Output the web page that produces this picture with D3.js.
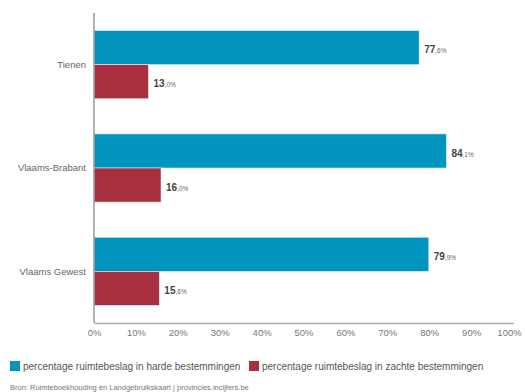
<!DOCTYPE html>
<html>
<head>
<meta charset="utf-8">
<script src="https://cdn.jsdelivr.net/npm/d3@7"></script>
<style>
  body { margin: 0; background: #fff; }
  svg { font-family: "Liberation Sans", Arial, sans-serif; display: block; }
</style>
</head>
<body>
<div id="chart"></div>
<script>
// Chart data
const regions = ["Tienen", "Vlaams-Brabant", "Vlaams Gewest"];
const hardValues = [77.6, 84.1, 79.9];
const softValues = [13.0, 16.0, 15.6];
const seriesNames = [
  "percentage ruimtebeslag in harde bestemmingen",
  "percentage ruimtebeslag in zachte bestemmingen"
];
const xTicks = [0, 10, 20, 30, 40, 50, 60, 70, 80, 90, 100];
const sourceText = "Bron: Ruimteboekhouding en Landgebruikskaart | provincies.incijfers.be";

const colours = ["#0094bf", "#a8303e"];

const width = 525, height = 392;
const margin = { top: 13, right: 12, bottom: 69, left: 94 };
const innerW = width - margin.left - margin.right;
const innerH = height - margin.top - margin.bottom;

const svg = d3.select("#chart").append("svg")
  .attr("width", width)
  .attr("height", height);

const chart = svg.append("g")
  .attr("transform", `translate(${margin.left},${margin.top})`);

// Scales
const xScale = d3.scaleLinear().domain([0, 100]).range([0, innerW]);
const yScale = d3.scaleBand().domain(regions).range([0, innerH])
  .paddingInner(0.34).paddingOuter(0.17);
const subScale = d3.scaleBand().domain([0, 1]).range([0, yScale.bandwidth()]);

const data = regions.map((r, i) => ({ region: r, values: [hardValues[i], softValues[i]] }));

// Bars
const groups = chart.selectAll(".group")
  .data(data)
  .join("g")
  .attr("class", "group")
  .attr("transform", d => `translate(0,${yScale(d.region)})`);

groups.selectAll("rect")
  .data(d => d.values.map((v, k) => ({ v, k })))
  .join("rect")
  .attr("x", 0)
  .attr("y", d => subScale(d.k))
  .attr("width", d => xScale(d.v))
  .attr("height", subScale.bandwidth())
  .attr("fill", d => colours[d.k])
  .attr("stroke", "#e6f2f6")
  .attr("stroke-width", 0.6);

// Value labels: bold integer part, small decimal part
const fmt = d3.format(".1f");
const valueLabels = groups.selectAll(".value-label")
  .data(d => d.values.map((v, k) => ({ v, k })))
  .join("text")
  .attr("class", "value-label")
  .attr("x", d => xScale(d.v) + 5)
  .attr("y", d => subScale(d.k) + subScale.bandwidth() / 2)
  .attr("dy", "0.35em")
  .attr("fill", "#444");

valueLabels.append("tspan")
  .style("font-size", "10px")
  .style("font-weight", "bold")
  .text(d => fmt(d.v).split(".")[0]);
valueLabels.append("tspan")
  .style("font-size", "6.5px")
  .attr("fill", "#666")
  .text(d => "," + fmt(d.v).split(".")[1] + "%");

// Category labels
chart.selectAll(".cat-label")
  .data(regions)
  .join("text")
  .attr("class", "cat-label")
  .attr("x", -8)
  .attr("y", d => yScale(d) + yScale.bandwidth() / 2)
  .attr("dy", "0.35em")
  .attr("text-anchor", "end")
  .attr("fill", "#666")
  .style("font-size", "9.5px")
  .text(d => d);

// Axes
const xAxis = d3.axisBottom(xScale)
  .tickValues(xTicks)
  .tickSize(0)
  .tickPadding(6)
  .tickFormat(d => d + "%");

const xAxisGroup = chart.append("g")
  .attr("transform", `translate(0,${innerH})`)
  .call(xAxis);
xAxisGroup.select(".domain").attr("stroke", "#aaa").attr("stroke-width", 1.5);
xAxisGroup.selectAll("text").attr("fill", "#777").style("font-size", "9.5px");
xAxisGroup.selectAll(".tick").filter(d => d === 100).select("text").attr("dx", "-4");

chart.append("line")
  .attr("x1", 0).attr("x2", 0)
  .attr("y1", 0).attr("y2", innerH)
  .attr("stroke", "#999")
  .attr("stroke-width", 1.5);

// Legend
const legend = svg.append("g").attr("transform", "translate(10,361)");
const legendX = [0, 239];
seriesNames.forEach((name, k) => {
  const item = legend.append("g").attr("transform", `translate(${legendX[k]},0)`);
  item.append("rect")
    .attr("width", 10).attr("height", 10)
    .attr("fill", colours[k]);
  item.append("text")
    .attr("x", 13).attr("y", 5)
    .attr("dy", "0.35em")
    .attr("fill", "#555")
    .style("font-size", "10px")
    .text(name);
});

// Source
svg.append("text")
  .attr("x", 10).attr("y", 390)
  .attr("fill", "#777")
  .style("font-size", "7.5px")
  .text(sourceText);
</script>
</body>
</html>
